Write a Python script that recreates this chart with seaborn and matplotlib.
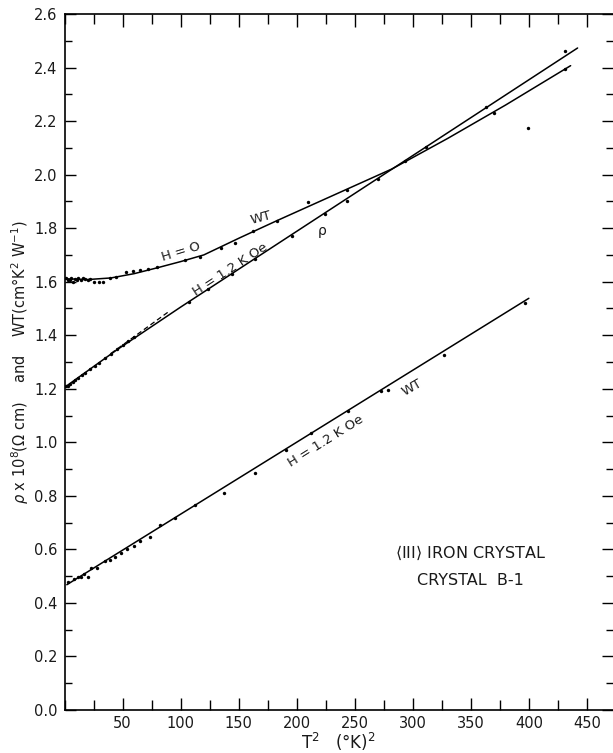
import matplotlib
matplotlib.use("Agg")
import matplotlib.pyplot as plt
import seaborn as sns
import pandas as pd
from matplotlib.ticker import MultipleLocator, FixedLocator

# ---------------- data ----------------
# WT at H = 0 : measured points
wt0_x = [1.5, 3, 4.5, 6, 7.5, 9, 10.5, 12, 14, 16, 18, 20, 22, 25, 29.5, 33,
         38.8, 44, 52.6, 58.6, 64.7, 71.6, 79.3, 103.4, 116.4, 134.5, 147, 162,
         183, 210, 243, 293, 369.8, 399, 431]
wt0_y = [1.615, 1.605, 1.608, 1.612, 1.600, 1.610, 1.606, 1.612, 1.608, 1.613,
         1.610, 1.607, 1.610, 1.598, 1.597, 1.597, 1.615, 1.618, 1.635, 1.639,
         1.642, 1.649, 1.654, 1.682, 1.691, 1.726, 1.745, 1.788, 1.828, 1.897,
         1.943, 2.049, 2.231, 2.175, 2.393]
# WT at H = 0 : drawn curve
wt0_fit_x = [0, 20, 40, 60, 80, 100, 120, 151, 183, 243, 282, 330, 380, 436]
wt0_fit_y = [1.611, 1.608, 1.614, 1.630, 1.652, 1.675, 1.700, 1.764, 1.828,
             1.945, 2.021, 2.135, 2.260, 2.407]

# rho at H = 1.2 kOe : measured points
rho_x = [1.5, 3, 5, 7, 9, 12, 15, 18, 22, 26, 30, 35, 40, 45, 50, 55, 60,
         107, 124, 144, 164, 196, 224, 243, 270, 311, 363.5, 431]
rho_y = [1.21, 1.212, 1.218, 1.225, 1.232, 1.24, 1.25, 1.26, 1.272, 1.285,
         1.298, 1.314, 1.33, 1.347, 1.362, 1.377, 1.392, 1.524, 1.571, 1.63,
         1.685, 1.772, 1.853, 1.903, 1.984, 2.102, 2.251, 2.46]
# rho : drawn line and dashed extrapolation
rho_fit_x = [0, 45, 100, 442]
rho_fit_y = [1.205, 1.345, 1.505, 2.473]
rho_dash_x = [40, 91]
rho_dash_y = [1.332, 1.492]

# WT at H = 1.2 kOe : measured points
wt12_x = [2.9, 8.6, 11.5, 14.4, 17.2, 20, 23, 27.9, 34.5, 38.8, 43.7, 48.3,
          54, 60.3, 64.7, 73.3, 81.9, 94.8, 112, 137, 163.8, 190.5, 212.6,
          244, 273, 278.7, 326.7, 397]
wt12_y = [0.479, 0.491, 0.495, 0.497, 0.507, 0.495, 0.529, 0.531, 0.556,
          0.562, 0.572, 0.585, 0.600, 0.613, 0.632, 0.647, 0.690, 0.719, 0.767,
          0.811, 0.887, 0.973, 1.035, 1.117, 1.191, 1.197, 1.325, 1.521]
wt12_fit_x = [2, 400]
wt12_fit_y = [0.468, 1.538]

x_major = [50, 100, 150, 200, 250, 300, 350, 400, 450]
x_labels = ["50", "100", "150", "200", "250", "300", "350", "400", "450"]

# ---------------- figure ----------------
sns.set_style("ticks")
plt.rcParams["font.family"] = ["DejaVu Sans"]
plt.rcParams["mathtext.fontset"] = "dejavusans"

fig = plt.figure(figsize=(6.13, 7.53), dpi=100)
ax = fig.add_axes([64.5 / 613, 43 / 753, (613 - 64.5) / 613, 696 / 753])

lw = 1.1
sns.lineplot(x=wt0_fit_x, y=wt0_fit_y, ax=ax, color="black", lw=lw,
             sort=False, estimator=None)
sns.lineplot(x=rho_fit_x, y=rho_fit_y, ax=ax, color="black", lw=lw,
             sort=False, estimator=None)
sns.lineplot(x=rho_dash_x, y=rho_dash_y, ax=ax, color="black", lw=0.9,
             linestyle=(0, (4, 2.5)), sort=False, estimator=None)
sns.lineplot(x=wt12_fit_x, y=wt12_fit_y, ax=ax, color="black", lw=lw,
             sort=False, estimator=None)

for xs, ys in [(wt0_x, wt0_y), (rho_x, rho_y), (wt12_x, wt12_y)]:
    sns.scatterplot(x=xs, y=ys, ax=ax, color="black", s=6, linewidth=0,
                    zorder=3)

ax.set_xlim(0, 472.5)
ax.set_ylim(0, 2.6)

ax.xaxis.set_major_locator(FixedLocator(x_major))
ax.set_xticklabels(x_labels)
ax.xaxis.set_minor_locator(MultipleLocator(25))
ax.yaxis.set_minor_locator(MultipleLocator(0.1))
ax.set_yticks([i * 0.2 for i in range(14)])
ax.set_yticklabels([f"{i*0.2:.1f}" for i in range(14)])

ax.tick_params(axis="both", which="both", direction="in", color="black",
               width=1.0, labelsize=10.5, labelcolor="#1a1a1a")
ax.tick_params(axis="x", which="major", length=9, top=True, bottom=True, pad=4)
ax.tick_params(axis="x", which="minor", length=7, top=True, bottom=True)
ax.tick_params(axis="y", which="major", length=8, left=True, right=True, pad=5)
ax.tick_params(axis="y", which="minor", length=5, left=True, right=True)

for side in ["left", "bottom", "top"]:
    ax.spines[side].set_visible(True)
    ax.spines[side].set_linewidth(1.2)
    ax.spines[side].set_color("black")
ax.spines["right"].set_visible(False)

ax.set_xlabel("T$^2$   (°K)$^2$", fontsize=12, labelpad=0, color="#1a1a1a")
ax.set_ylabel("$\\rho$ x 10$^8$(Ω cm)    and    WT(cm°K$^2$ W$^{-1}$)",
              fontsize=10.5, labelpad=2, color="#1a1a1a")

tc = "#1a1a1a"
ax.text(100, 1.712, "H = O", rotation=17, fontsize=9.5, ha="center",
        va="center", color=tc)
ax.text(169, 1.838, "WT", rotation=15, fontsize=9.5, ha="center",
        va="center", color=tc)
ax.text(143, 1.644, "H = 1.2 K Oe", rotation=33, fontsize=9.5, ha="center",
        va="center", color=tc)
ax.text(222, 1.79, "ρ", fontsize=10, ha="center", va="center", color=tc)
ax.text(225, 1.005, "H = 1.2 K Oe", rotation=32, fontsize=9.5, ha="center",
        va="center", color=tc)
ax.text(299, 1.203, "WT", rotation=30, fontsize=9.5, ha="center",
        va="center", color=tc)
ax.text(350, 0.586, "$\\langle$III$\\rangle$ IRON CRYSTAL", fontsize=11.5,
        ha="center", va="center", color=tc)
ax.text(350, 0.482, "CRYSTAL  B-1", fontsize=11.5, ha="center", va="center",
        color=tc)

fig.savefig("out.png", dpi=100)
